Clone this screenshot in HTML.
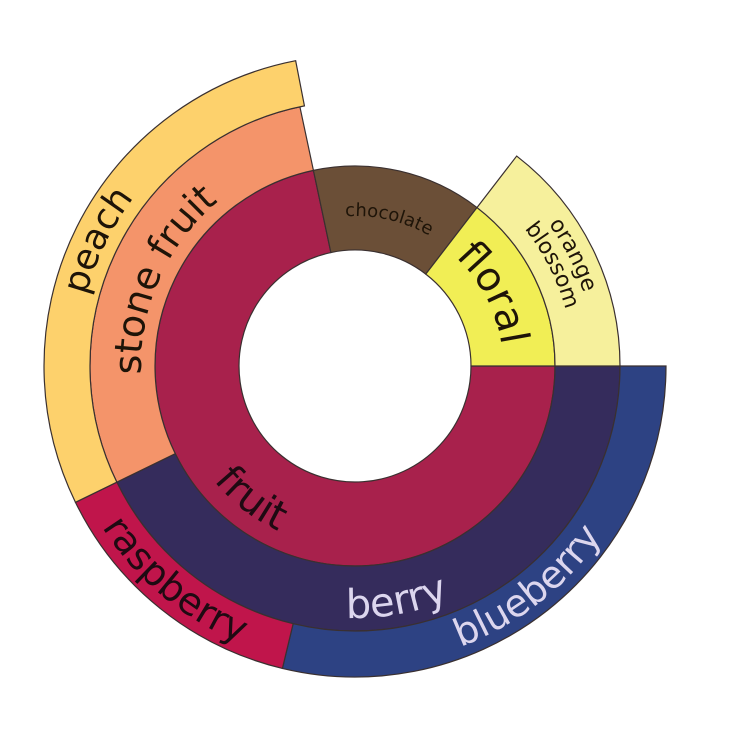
<!DOCTYPE html>
<html><head><meta charset="utf-8"><style>
html,body{margin:0;padding:0;background:#fff;}
svg{display:block;}
text{font-family:"DejaVu Sans","Liberation Sans",sans-serif;}
</style></head><body>
<svg id="s" width="750" height="750" viewBox="0 0 750 750">
<g id="segs" stroke="#3a3030" stroke-width="1.2"></g>
<defs>
<path id="pFruit"/><path id="pRasp"/><path id="pBerry"/><path id="pBlue"/>
<path id="pPeach"/><path id="pStone"/><path id="pFloral"/><path id="pOrange"/><path id="pBlossom"/><path id="pChoc"/>
</defs>
<text font-size="40" fill="#1e0a12"><textPath href="#pFruit" startOffset="50%" text-anchor="middle">fruit</textPath></text>
<text font-size="38" fill="#1e0a12"><textPath href="#pRasp" startOffset="50%" text-anchor="middle">raspberry</textPath></text>
<text font-size="40" fill="#dcd6ee"><textPath href="#pBerry" startOffset="50%" text-anchor="middle">berry</textPath></text>
<text font-size="38" fill="#dcd6ee"><textPath href="#pBlue" startOffset="50%" text-anchor="middle">blueberry</textPath></text>
<text font-size="36" fill="#1e1408"><textPath href="#pPeach" startOffset="50%" text-anchor="middle">peach</textPath></text>
<text font-size="38" fill="#1e1408"><textPath href="#pStone" startOffset="50%" text-anchor="middle">stone fruit</textPath></text>
<text font-size="40" fill="#1e1408"><textPath href="#pFloral" startOffset="50%" text-anchor="middle">floral</textPath></text>
<text font-size="22" fill="#1e1408"><textPath href="#pOrange" startOffset="50%" text-anchor="middle">orange</textPath></text>
<text font-size="22" fill="#1e1408"><textPath href="#pBlossom" startOffset="50%" text-anchor="middle">blossom</textPath></text>
<text font-size="18" fill="#1e1408"><textPath href="#pChoc" startOffset="50%" text-anchor="middle">chocolate</textPath></text>
</svg>
<script>
var cx=355,cy=366;
function P(r,a){a=a*Math.PI/180;return (cx+r*Math.cos(a)).toFixed(2)+","+(cy+r*Math.sin(a)).toFixed(2);}
function seg(r0,r1,a0,a1,fill){
 var large=(a1-a0)>180?1:0;
 var d="M"+P(r0,a0)+" L"+P(r1,a0)+" A"+r1+","+r1+" 0 "+large+" 1 "+P(r1,a1)+" L"+P(r0,a1)+" A"+r0+","+r0+" 0 "+large+" 0 "+P(r0,a0)+"Z";
 var p=document.createElementNS("http://www.w3.org/2000/svg","path");
 p.setAttribute("d",d);p.setAttribute("fill",fill);
 document.getElementById("segs").appendChild(p);
}
seg(116,200,0,258,"#a8214c");
seg(116,200,258,307.6,"#6b4f37");
seg(116,200,307.6,360,"#f1ee55");
seg(200,265,0,154,"#352c5c");
seg(200,265,154,258,"#f4946a");
seg(200,265,307.6,360,"#f6f09c");
seg(265,311,0,103.5,"#2d4283");
seg(265,311,103.5,154,"#c0154b");
seg(265,311,154,259,"#fdd16c");
function arc(id,r,c,cw){
 var s=60,d;
 if(cw){d="M"+P(r,c-s)+" A"+r+","+r+" 0 0 1 "+P(r,c+s);}
 else{d="M"+P(r,c+s)+" A"+r+","+r+" 0 0 0 "+P(r,c-s);}
 document.getElementById(id).setAttribute("d",d);
}
arc("pFruit",182,128,false);
arc("pRasp",300,130,false);
arc("pBerry",252,80,false);
arc("pBlue",300,52,false);
arc("pPeach",278,206,true);
arc("pStone",214,204,true);
arc("pFloral",148,-27.7,true);
arc("pOrange",240,-27,true);
arc("pBlossom",218,-27,true);
arc("pChoc",150,-77,true);
</script>
</body></html>
